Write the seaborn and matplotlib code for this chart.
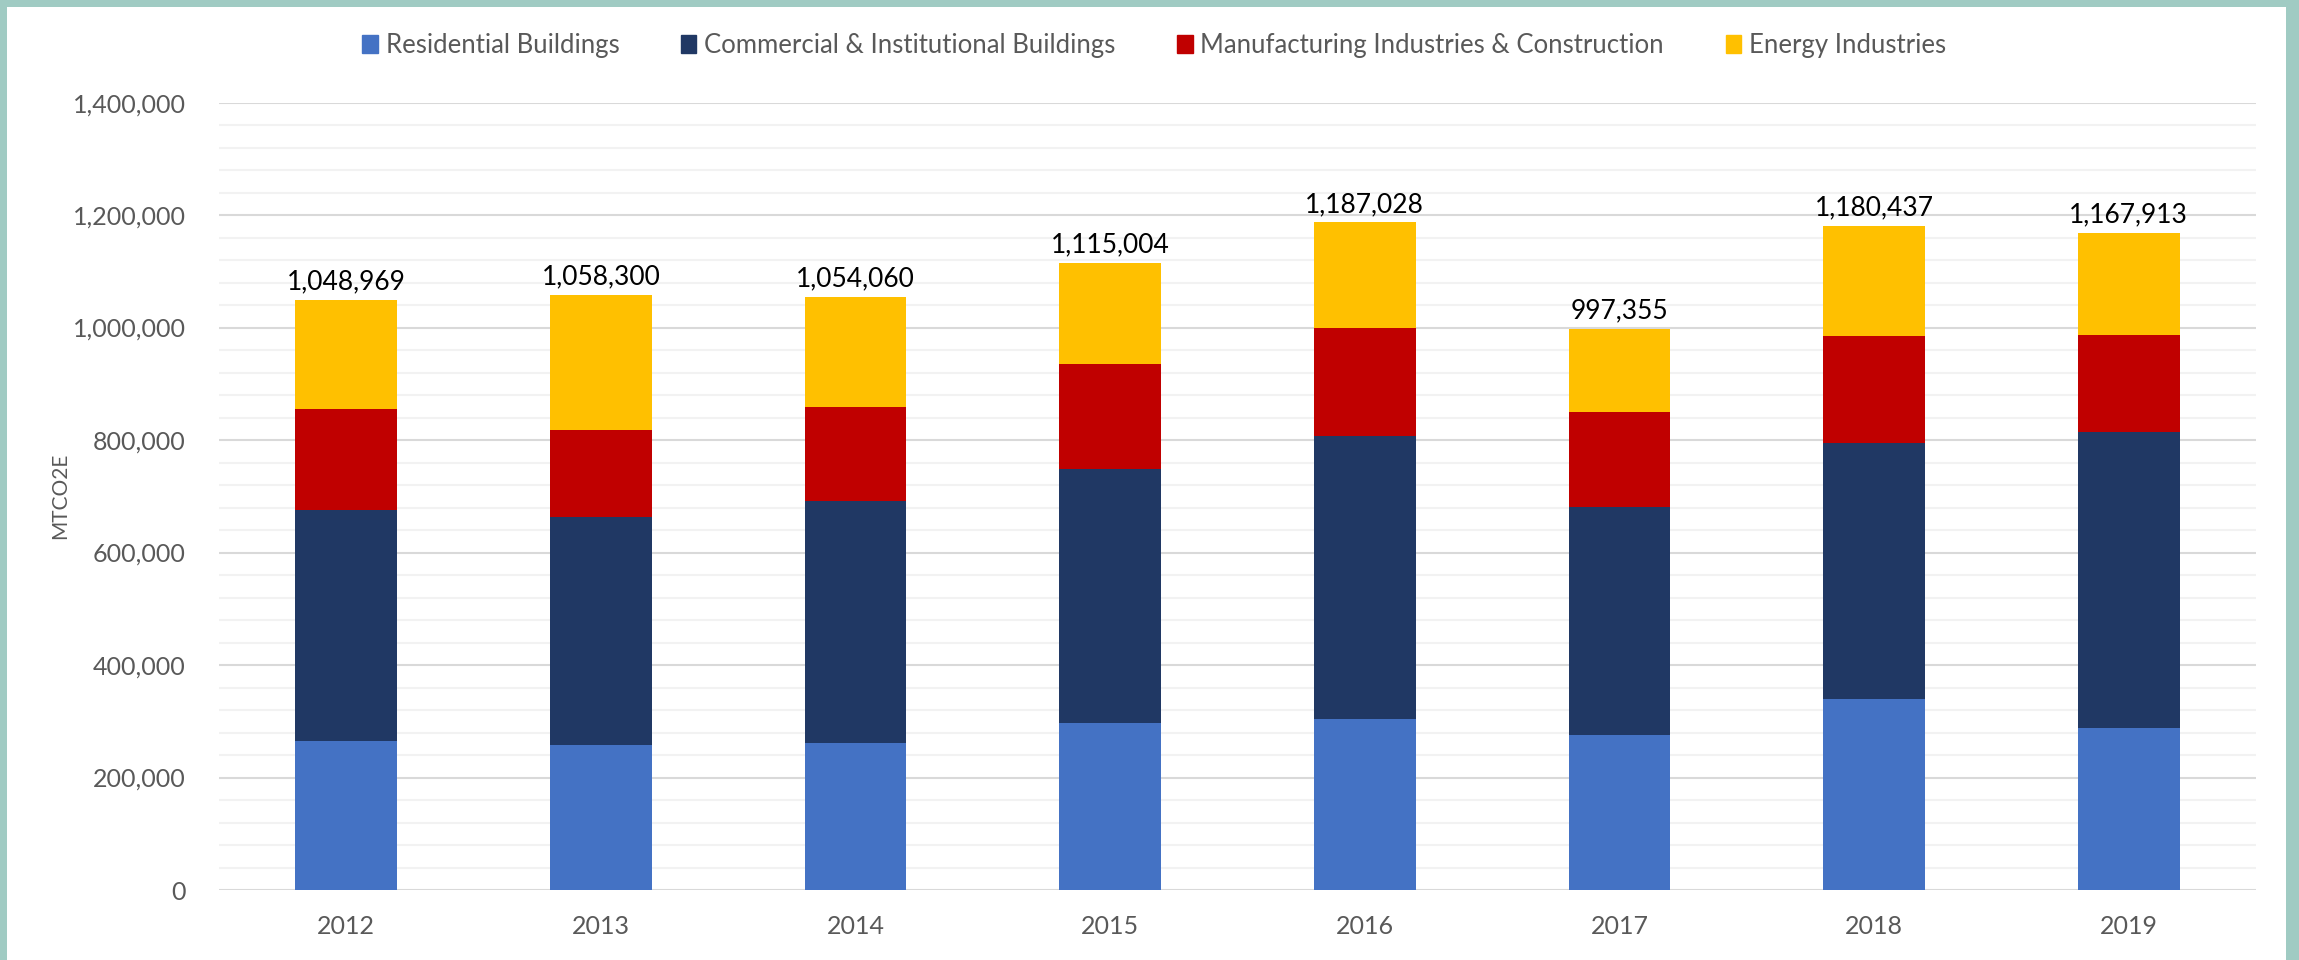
import numpy as np
import pandas as pd
import matplotlib
matplotlib.use("Agg")
import matplotlib.pyplot as plt
import matplotlib.patches as mpatches
from matplotlib.ticker import FuncFormatter, MultipleLocator
import seaborn as sns

# ---- data ----
years = ["2012", "2013", "2014", "2015", "2016", "2017", "2018", "2019"]
residential = [264300, 257100, 260700, 296400, 304500, 275000, 338800, 287300]
commercial = [412100, 405800, 431500, 451500, 503600, 406400, 455500, 527400]
manufacturing = [178600, 155000, 167100, 187800, 191900, 167900, 191000, 171400]
energy = [193969, 240400, 194760, 179304, 187028, 148055, 195137, 181813]

series_names = ["Residential Buildings", "Commercial & Institutional Buildings",
                "Manufacturing Industries & Construction", "Energy Industries"]
colors = ["#4472C4", "#203864", "#C00000", "#FFC000"]

df = pd.DataFrame({"year": years,
                   series_names[0]: residential,
                   series_names[1]: commercial,
                   series_names[2]: manufacturing,
                   series_names[3]: energy})

# cumulative tops for stacking (draw tallest first)
cum = df[series_names].cumsum(axis=1)

sns.set_theme(style="white")
plt.rcParams["font.family"] = ["Lato", "DejaVu Sans"]

fig = plt.figure(figsize=(22.99, 9.6), dpi=100)
fig.patch.set_facecolor("#A0CBC3")
# white panel inside the teal frame
fig.patches.append(mpatches.Rectangle((7 / 2299, 0), (2286 - 7) / 2299, (960 - 7) / 960,
                                      transform=fig.transFigure, facecolor="white",
                                      edgecolor="none", zorder=-1))

ax = fig.add_axes([219 / 2299, 70 / 960, (2256 - 219) / 2299, (890 - 102.6) / 960])
ax.set_facecolor("none")

for i in range(len(series_names) - 1, -1, -1):
    sns.barplot(x=df["year"], y=cum[series_names[i]], color=colors[i], width=0.4,
                saturation=1, ax=ax, zorder=3, linewidth=0)

# total labels on top of the stack
totals = cum[series_names[-1]].tolist()
ax.bar_label(ax.containers[0], labels=[f"{t:,.0f}" for t in totals],
             padding=4, fontsize=19, color="black")

ax.set_ylim(0, 1400000)
ax.set_xlim(-0.5, len(years) - 0.5)
ax.yaxis.set_major_locator(MultipleLocator(200000))
ax.yaxis.set_minor_locator(MultipleLocator(40000))
ax.yaxis.set_major_formatter(FuncFormatter(lambda v, p: f"{v:,.0f}"))
ax.grid(axis="y", which="minor", color="#f2f2f2", linewidth=1.5, zorder=0)
ax.grid(axis="y", which="major", color="#d9d9d9", linewidth=1.5, zorder=1)
ax.grid(axis="x", visible=False)
for s in ax.spines.values():
    s.set_visible(False)
ax.tick_params(axis="both", which="both", length=0, labelsize=18, colors="#595959")
ax.tick_params(axis="y", pad=24)
ax.tick_params(axis="x", pad=18)
ax.set_xlabel("")
ax.set_ylabel("MTCO2E", fontsize=15, color="#595959", labelpad=2)

handles = [mpatches.Patch(color=c, label=n) for c, n in zip(colors, series_names)]
fig.legend(handles=handles, loc="center", bbox_to_anchor=(0.502, 1 - 45 / 960), ncol=4,
           frameon=False, fontsize=18.5, labelcolor="#595959", handlelength=0.6,
           handleheight=0.7, handletextpad=0.3, columnspacing=2.4)

plt.savefig("out.png", dpi=100, facecolor=fig.get_facecolor())
